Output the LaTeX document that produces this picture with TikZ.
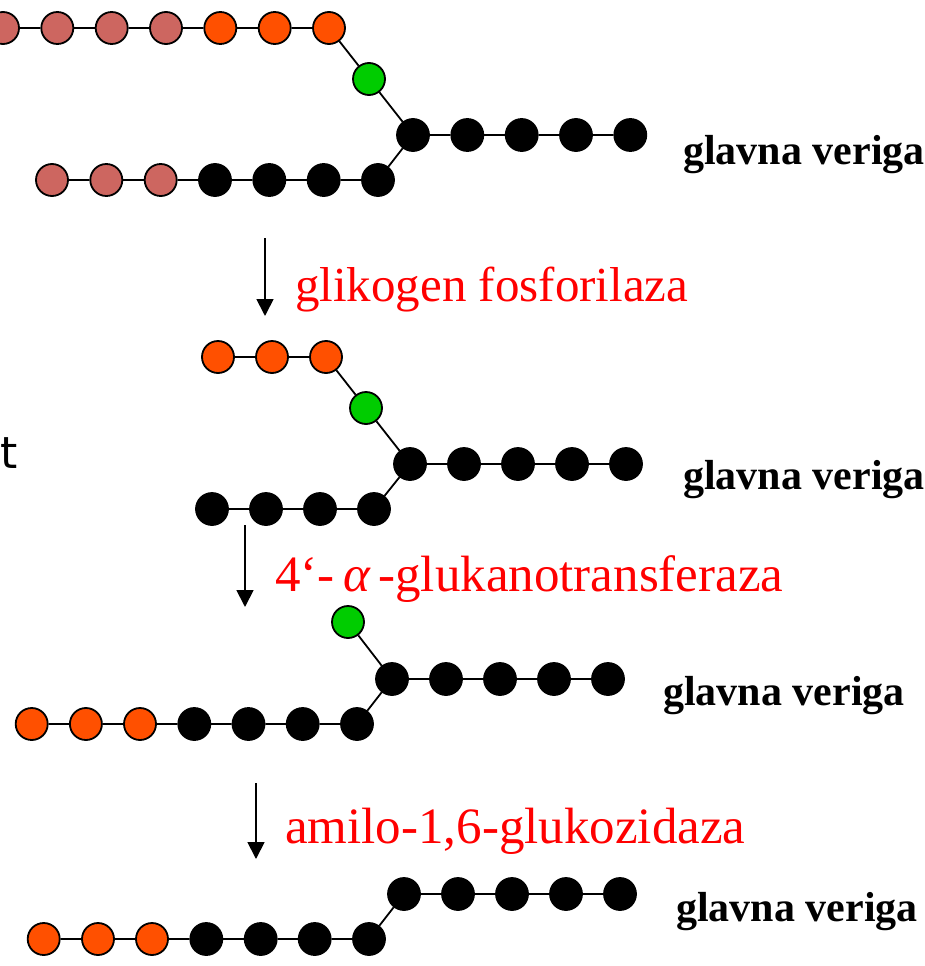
\documentclass[tikz,border=0pt]{standalone}
\usepackage{fontspec}
\usetikzlibrary{arrows.meta}
\newfontfamily\redfont{Liberation Serif}
\newfontfamily\lblfont{Liberation Serif}
\newfontfamily\tfont{DejaVu Sans}
\definecolor{rose}{RGB}{205,102,96}
\definecolor{orng}{RGB}{255,80,0}
\definecolor{grn}{RGB}{0,204,0}
\begin{document}
\begin{tikzpicture}[x=1pt,y=-1pt,
 bead/.style={circle,draw=black,line width=1.8pt,minimum size=32pt,inner sep=0pt},
 rb/.style={bead,fill=rose}, ob/.style={bead,fill=orng}, gb/.style={bead,fill=grn}, kb/.style={bead,fill=black},
 bond/.style={line width=1.8pt},
 lbl/.style={anchor=base west,inner sep=0pt,font=\lblfont\bfseries\fontsize{42}{48}\selectfont},
 enz/.style={anchor=base west,inner sep=0pt,text=red,font=\redfont\fontsize{49}{56}\selectfont},
 enzb/.style={enz,font=\redfont\fontsize{51}{58}\selectfont},
 arr/.style={line width=1.8pt,-{Triangle[width=17pt,length=17pt]}}]
\useasboundingbox (0,0) rectangle (924,966);
% ---------- stage 1
\foreach \i/\x/\s in {1/3/rb,2/57.3/rb,3/111.7/rb,4/166/rb,5/220.3/ob,6/274.7/ob,7/329/ob}
  \node[\s] (a\i) at (\x,28) {};
\node[gb] (ag) at (369,79) {};
\foreach \i/\x in {1/413,2/467.3,3/521.7,4/576,5/630.3}
  \node[kb] (ar\i) at (\x,135) {};
\foreach \i/\x/\s in {1/52/rb,2/106.3/rb,3/160.7/rb,4/215/kb,5/269.3/kb,6/323.7/kb,7/378/kb}
  \node[\s] (ab\i) at (\x,180) {};
\draw[bond] (a1)--(a2)--(a3)--(a4)--(a5)--(a6)--(a7)--(ag)--(ar1)--(ar2)--(ar3)--(ar4)--(ar5);
\draw[bond] (ab1)--(ab2)--(ab3)--(ab4)--(ab5)--(ab6)--(ab7)--(ar1);
\node[lbl] (l1) at (683,164) {glavna veriga};
% ---------- arrow 1
\coordinate (p1s) at (265,238);
\coordinate (p1e) at (265,316);
\draw[arr] (p1s) -- (p1e);
\node[enz] (e1) at (295,301) {glikogen fosforilaza};
% ---------- stage 2
\foreach \i/\x in {1/218,2/272,3/326}
  \node[ob] (b\i) at (\x,357) {};
\node[gb] (bg) at (366,408) {};
\foreach \i/\x in {1/410,2/464,3/518,4/572,5/626}
  \node[kb] (br\i) at (\x,464) {};
\foreach \i/\x in {1/212,2/266,3/320,4/374}
  \node[kb] (bb\i) at (\x,509) {};
\draw[bond] (b1)--(b2)--(b3)--(bg)--(br1)--(br2)--(br3)--(br4)--(br5);
\draw[bond] (bb1)--(bb2)--(bb3)--(bb4)--(br1);
\node[lbl] (l2) at (683,489) {glavna veriga};
\node[anchor=base west,inner sep=0pt,font=\tfont\fontsize{44}{50}\selectfont] (tt) at (0,468) {t};
% ---------- arrow 2
\coordinate (p2s) at (245,525);
\coordinate (p2e) at (245,607);
\draw[arr] (p2s) -- (p2e);
\node[enzb] (e2) at (275,591) {4‘-\,{\itshape α}\,-glukanotransferaza};
% ---------- stage 3
\node[gb] (cg) at (348,622) {};
\foreach \i/\x in {1/392,2/446,3/500,4/554,5/608}
  \node[kb] (cr\i) at (\x,679) {};
\foreach \i/\x/\s in {1/31.7/ob,2/85.9/ob,3/140/ob,4/194.3/kb,5/248.5/kb,6/302.7/kb,7/357/kb}
  \node[\s] (cb\i) at (\x,724) {};
\draw[bond] (cg)--(cr1)--(cr2)--(cr3)--(cr4)--(cr5);
\draw[bond] (cb1)--(cb2)--(cb3)--(cb4)--(cb5)--(cb6)--(cb7)--(cr1);
\node[lbl] (l3) at (663,705) {glavna veriga};
% ---------- arrow 3
\coordinate (p3s) at (256,783);
\coordinate (p3e) at (256,859);
\draw[arr] (p3s) -- (p3e);
\node[enzb] (e3) at (285,843) {amilo-1,6-glukozidaza};
% ---------- stage 4
\foreach \i/\x in {1/404,2/458,3/512,4/566,5/620}
  \node[kb] (dr\i) at (\x,894) {};
\foreach \i/\x/\s in {1/43.7/ob,2/98/ob,3/152/ob,4/206.3/kb,5/260.7/kb,6/314.7/kb,7/369/kb}
  \node[\s] (db\i) at (\x,939) {};
\draw[bond] (dr1)--(dr2)--(dr3)--(dr4)--(dr5);
\draw[bond] (db1)--(db2)--(db3)--(db4)--(db5)--(db6)--(db7)--(dr1);
\node[lbl] (l4) at (676,921) {glavna veriga};
\end{tikzpicture}
\end{document}
